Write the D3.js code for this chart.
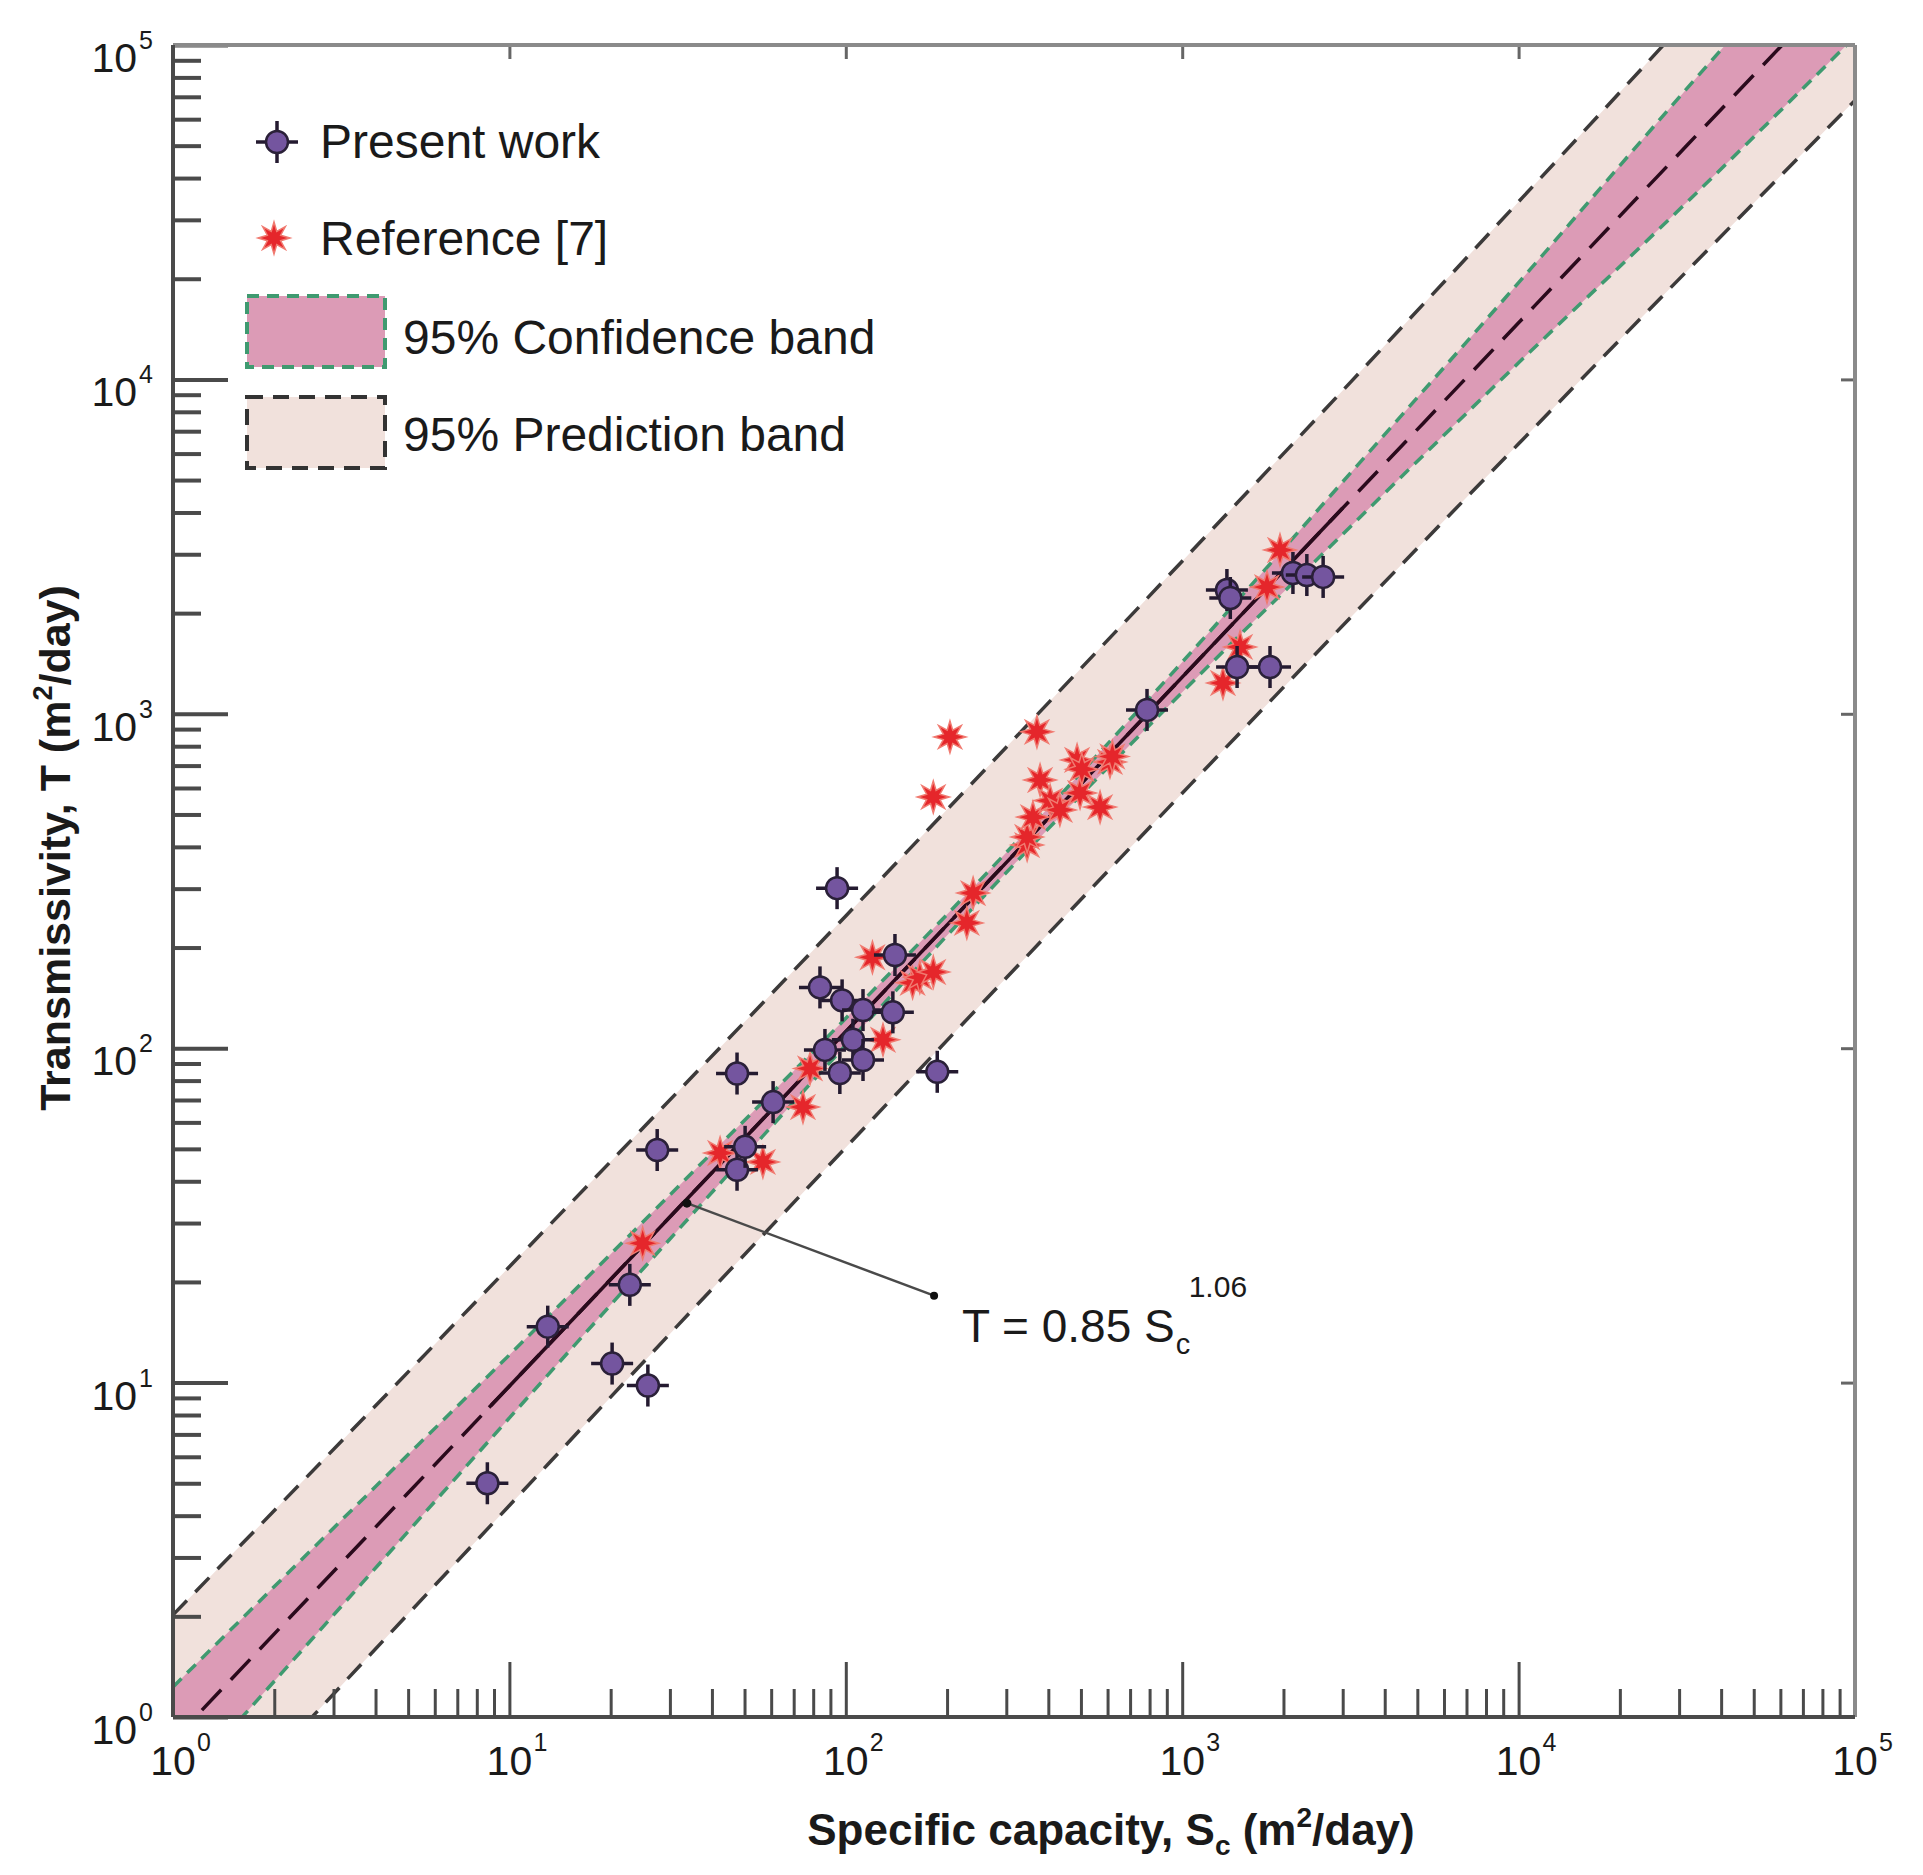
<!DOCTYPE html>
<html>
<head>
<meta charset="utf-8">
<script src="https://cdn.jsdelivr.net/npm/d3@7"></script>
<style>
  html, body { margin: 0; padding: 0; background: #fff; }
  text { font-family: "Liberation Sans", Arial, sans-serif; fill: #1a1a1a; }
</style>
</head>
<body>
<svg id="chart" width="1923" height="1875"></svg>
<script>
// ---- data ----
var bandSc     = [1, 3.162, 10, 31.62, 100, 316.2, 1000, 3162, 10000, 31620, 100000];
var fitT       = [0.85, 2.88, 9.76, 33.1, 112, 380, 1287, 4360, 14770, 50040, 169600];
var predUpper  = [2.02, 6.67, 22.2, 74.0, 248.6, 840, 2860, 9800, 33990, 118990, 421100];
var predLower  = [0.358, 1.24, 4.29, 14.8, 50.5, 171.6, 578.6, 1939, 6418, 21060, 68300];
var confUpper  = [1.23, 3.87, 12.1, 38.4, 122.9, 406.8, 1427, 5242, 19470, 74030, 271900];
var confLower  = [0.588, 2.14, 7.84, 28.5, 102.2, 354.3, 1160, 3626, 11210, 33840, 105800];

var fitSolidSc = [8.7, 3000];
var fitSolidT  = [8.42, 4125];

var presentSc = [8.6, 13.0, 20.2, 22.8, 25.8, 27.5, 47.5, 47.5, 50.2, 60.8, 83.8, 86.7, 94.2, 96, 97.5,
                 105, 112.5, 112.5, 138, 140, 187, 786, 1358, 1390, 1456, 1824, 2134, 2347, 2624];
var presentT  = [5.0, 14.7, 11.4, 19.6, 9.8, 49.6, 84, 43.3, 50.7, 69, 152, 98.8, 301, 84.3, 139,
                 106, 130, 92.2, 128, 190, 85, 1027, 2345, 2220, 1380, 1380, 2637, 2600, 2566];

var refSc = [24.9, 42.3, 56.7, 74.6, 78.3, 120, 129, 158, 166, 182, 229, 239, 182, 204, 346, 346, 360,
             370, 378, 405, 433, 487, 497, 503, 570, 610, 620, 1322, 1486, 1787, 1953];
var refT  = [26.1, 48.6, 45.7, 66.7, 87, 187, 106, 157, 163, 169, 237, 291, 564, 853, 405, 428, 491,
             883, 634, 550, 516, 728, 580, 683, 526, 718, 745, 1236, 1585, 2393, 3090];

var decades = [1, 10, 100, 1000, 10000, 100000];
var decadeExp = ['0', '1', '2', '3', '4', '5'];

var annotFrom = [33.7, 34.4];
var annotTo   = [183, 18.2];

// ---- layout ----
var plotLeft = 173, plotRight = 1855, plotTop = 45, plotBottom = 1717;

var svg = d3.select('#chart');

var x = d3.scaleLog().domain([1, 1e5]).range([plotLeft, plotRight]);
var y = d3.scaleLog().domain([1, 1e5]).range([plotBottom, plotTop]);

svg.append('defs').append('clipPath').attr('id', 'plotclip')
    .append('rect')
    .attr('x', plotLeft).attr('y', plotTop)
    .attr('width', plotRight - plotLeft).attr('height', plotBottom - plotTop);

var plot = svg.append('g').attr('clip-path', 'url(#plotclip)');

var band = bandSc.map(function(s, i) {
    return {sc: s, fit: fitT[i], pu: predUpper[i], pl: predLower[i], cu: confUpper[i], cl: confLower[i]};
});

var curve = d3.curveMonotoneX;

// prediction band
plot.append('path')
    .datum(band)
    .attr('fill', '#f1e1dc')
    .attr('d', d3.area().curve(curve)
        .x(function(d) { return x(d.sc); })
        .y0(function(d) { return y(d.pl); })
        .y1(function(d) { return y(d.pu); }));

// confidence band
plot.append('path')
    .datum(band)
    .attr('fill', '#dc9bb6')
    .attr('d', d3.area().curve(curve)
        .x(function(d) { return x(d.sc); })
        .y0(function(d) { return y(d.cl); })
        .y1(function(d) { return y(d.cu); }));

function edge(key, color, dash, width) {
    plot.append('path')
        .datum(band)
        .attr('fill', 'none')
        .attr('stroke', color)
        .attr('stroke-width', width)
        .attr('stroke-dasharray', dash)
        .attr('d', d3.line().curve(curve)
            .x(function(d) { return x(d.sc); })
            .y(function(d) { return y(d[key]); }));
}

edge('pu', '#3c3a3a', '20,12', 3.5);
edge('pl', '#3c3a3a', '20,12', 3.5);
edge('cu', '#3f9a70', '12,8', 3.5);
edge('cl', '#3f9a70', '12,8', 3.5);
edge('fit', '#2a0a1c', '28,14', 3.5);

// solid fit over data range
plot.append('path')
    .datum(fitSolidSc.map(function(s, i) { return [s, fitSolidT[i]]; }))
    .attr('fill', 'none')
    .attr('stroke', '#2a0a1c')
    .attr('stroke-width', 3.5)
    .attr('d', d3.line()
        .x(function(d) { return x(d[0]); })
        .y(function(d) { return y(d[1]); }));

// ---- axes ----
var minorTicks = x.ticks().filter(function(v) { return decades.indexOf(v) < 0; });

svg.append('g')
    .attr('transform', 'translate(0,' + plotBottom + ')')
    .call(d3.axisBottom(x).tickValues(minorTicks).tickSize(-28).tickFormat(''))
    .call(function(g) { g.select('.domain').remove(); })
    .selectAll('line').attr('stroke', '#4a4a4a').attr('stroke-width', 3);

svg.append('g')
    .attr('transform', 'translate(0,' + plotBottom + ')')
    .call(d3.axisBottom(x).tickValues(decades).tickSize(-55).tickFormat(''))
    .call(function(g) { g.select('.domain').remove(); })
    .selectAll('line').attr('stroke', '#4a4a4a').attr('stroke-width', 3);

svg.append('g')
    .attr('transform', 'translate(' + plotLeft + ',0)')
    .call(d3.axisLeft(y).tickValues(minorTicks).tickSize(-28).tickFormat(''))
    .call(function(g) { g.select('.domain').remove(); })
    .selectAll('line').attr('stroke', '#4a4a4a').attr('stroke-width', 4);

svg.append('g')
    .attr('transform', 'translate(' + plotLeft + ',0)')
    .call(d3.axisLeft(y).tickValues(decades).tickSize(-55).tickFormat(''))
    .call(function(g) { g.select('.domain').remove(); })
    .selectAll('line').attr('stroke', '#4a4a4a').attr('stroke-width', 4);

// short major ticks on top and right
svg.append('g')
    .attr('transform', 'translate(0,' + plotTop + ')')
    .call(d3.axisTop(x).tickValues(decades).tickSize(-14).tickFormat(''))
    .call(function(g) { g.select('.domain').remove(); })
    .selectAll('line').attr('stroke', '#666').attr('stroke-width', 3);

svg.append('g')
    .attr('transform', 'translate(' + plotRight + ',0)')
    .call(d3.axisRight(y).tickValues(decades).tickSize(-14).tickFormat(''))
    .call(function(g) { g.select('.domain').remove(); })
    .selectAll('line').attr('stroke', '#666').attr('stroke-width', 3);

// frame
svg.append('line').attr('x1', plotLeft).attr('x2', plotRight).attr('y1', plotTop).attr('y2', plotTop)
    .attr('stroke', '#8a8a8a').attr('stroke-width', 4);
svg.append('line').attr('x1', plotRight).attr('x2', plotRight).attr('y1', plotTop).attr('y2', plotBottom)
    .attr('stroke', '#8a8a8a').attr('stroke-width', 4);
svg.append('line').attr('x1', plotLeft).attr('x2', plotRight).attr('y1', plotBottom).attr('y2', plotBottom)
    .attr('stroke', '#4a4a4a').attr('stroke-width', 4);
svg.append('line').attr('x1', plotLeft).attr('x2', plotLeft).attr('y1', plotTop).attr('y2', plotBottom)
    .attr('stroke', '#4a4a4a').attr('stroke-width', 4);

// tick labels
decades.forEach(function(v, i) {
    var px = x(v);
    svg.append('text').attr('x', px).attr('y', 1775)
        .attr('text-anchor', 'middle').attr('font-size', 41).text('10');
    svg.append('text').attr('x', px + 24).attr('y', 1751)
        .attr('font-size', 25).text(decadeExp[i]);

    var py = y(v);
    svg.append('text').attr('x', 137).attr('y', py + 27)
        .attr('text-anchor', 'end').attr('font-size', 41).text('10');
    svg.append('text').attr('x', 139).attr('y', py + 4)
        .attr('font-size', 25).text(decadeExp[i]);
});

// axis titles
var xt = svg.append('text').attr('x', 1111).attr('y', 1845)
    .attr('text-anchor', 'middle').attr('font-size', 44).attr('font-weight', 'bold');
xt.append('tspan').text('Specific capacity, S');
xt.append('tspan').attr('font-size', 28).attr('dy', 10).text('c');
xt.append('tspan').attr('dy', -10).text(' (m');
xt.append('tspan').attr('font-size', 28).attr('dy', -18).text('2');
xt.append('tspan').attr('dy', 18).text('/day)');

var yt = svg.append('text').attr('transform', 'translate(70,848) rotate(-90)')
    .attr('text-anchor', 'middle').attr('font-size', 43).attr('font-weight', 'bold');
yt.append('tspan').text('Transmissivity, T  (m');
yt.append('tspan').attr('font-size', 27).attr('dy', -18).text('2');
yt.append('tspan').attr('dy', 18).text('/day)');

// ---- markers ----
var starType = {
    draw: function(context, size) {
        var r0 = Math.sqrt(size), r1 = r0 * 0.45, n = 8;
        for (var k = 0; k < 2 * n; k++) {
            var a = Math.PI * k / n - Math.PI / 2;
            var r = (k % 2 === 0) ? r0 : r1;
            if (k === 0) context.moveTo(r * Math.cos(a), r * Math.sin(a));
            else context.lineTo(r * Math.cos(a), r * Math.sin(a));
        }
        context.closePath();
    }
};
var starPath = d3.symbol().type(starType).size(16 * 16)();

function drawStar(g, px, py) {
    g.append('path')
        .attr('d', starPath)
        .attr('transform', 'translate(' + px + ',' + py + ')')
        .attr('fill', '#e5262b')
        .attr('stroke', '#f07a70')
        .attr('stroke-width', 1.5);
}

function drawPresent(g, px, py) {
    g.append('line').attr('x1', px).attr('x2', px).attr('y1', py - 21).attr('y2', py + 21)
        .attr('stroke', '#241a30').attr('stroke-width', 3.5);
    g.append('line').attr('x1', px - 21).attr('x2', px + 21).attr('y1', py).attr('y2', py)
        .attr('stroke', '#241a30').attr('stroke-width', 3.5);
    g.append('circle').attr('cx', px).attr('cy', py).attr('r', 11)
        .attr('fill', '#74559f').attr('stroke', '#2a2038').attr('stroke-width', 2.5);
}

var pts = svg.append('g');

// annotation arrow
svg.append('line')
    .attr('x1', x(annotFrom[0])).attr('y1', y(annotFrom[1]))
    .attr('x2', x(annotTo[0])).attr('y2', y(annotTo[1]))
    .attr('stroke', '#4a4a4a').attr('stroke-width', 2.5);
svg.append('circle').attr('cx', x(annotFrom[0])).attr('cy', y(annotFrom[1])).attr('r', 4.5).attr('fill', '#111');
svg.append('circle').attr('cx', x(annotTo[0])).attr('cy', y(annotTo[1])).attr('r', 4).attr('fill', '#111');

refSc.forEach(function(s, i) { drawStar(pts, x(s), y(refT[i])); });
presentSc.forEach(function(s, i) { drawPresent(pts, x(s), y(presentT[i])); });

// equation text
var eq = svg.append('text').attr('x', 962).attr('y', 1342).attr('font-size', 46).text('T = 0.85 S');
var eqLen = eq.node().getComputedTextLength();
svg.append('text').attr('x', 962 + eqLen + 1).attr('y', 1354).attr('font-size', 29).text('c');
svg.append('text').attr('x', 962 + eqLen + 14).attr('y', 1297).attr('font-size', 30).text('1.06');

// ---- legend ----
var lg = svg.append('g');
drawPresent(lg, 277, 142);
lg.append('text').attr('x', 320).attr('y', 158).attr('font-size', 48).text('Present work');
drawStar(lg, 274, 238);
lg.append('text').attr('x', 320).attr('y', 255).attr('font-size', 48).text('Reference [7]');

lg.append('rect').attr('x', 247).attr('y', 296).attr('width', 138).attr('height', 71)
    .attr('fill', '#dc9bb6').attr('stroke', '#3f9a70').attr('stroke-width', 4).attr('stroke-dasharray', '12,8');
lg.append('text').attr('x', 403).attr('y', 354).attr('font-size', 48).text('95% Confidence band');

lg.append('rect').attr('x', 247).attr('y', 397).attr('width', 138).attr('height', 71)
    .attr('fill', '#f1e1dc').attr('stroke', '#333').attr('stroke-width', 4).attr('stroke-dasharray', '16,10');
lg.append('text').attr('x', 403).attr('y', 451).attr('font-size', 48).text('95% Prediction band');
</script>
</body>
</html>
